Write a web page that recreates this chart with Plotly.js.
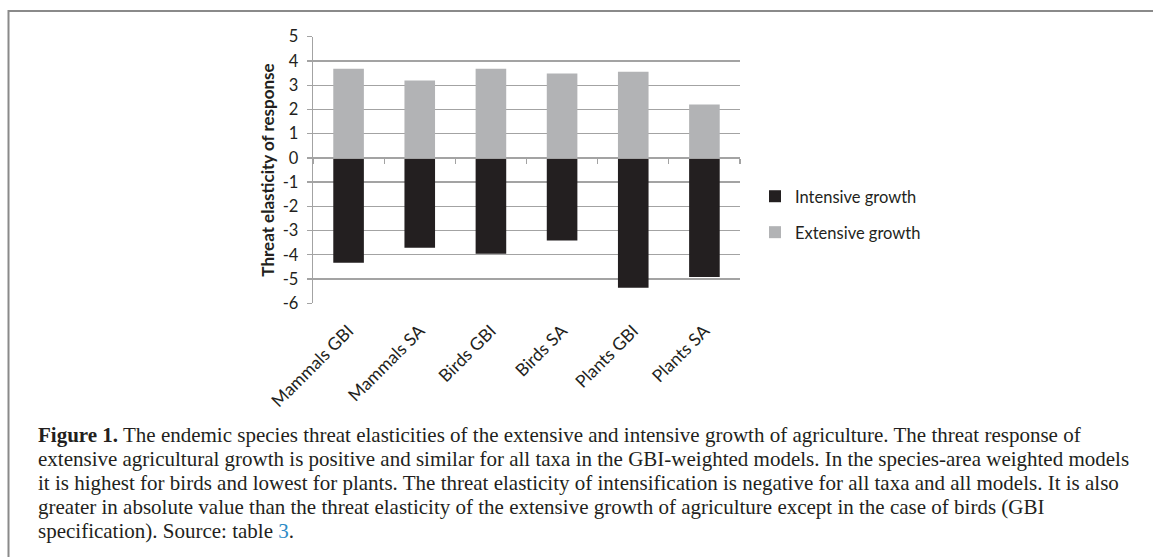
<!DOCTYPE html>
<html>
<head>
<meta charset="utf-8">
<script src="https://cdn.plot.ly/plotly-3.0.1.min.js"></script>
<style>html,body{margin:0;padding:0;background:#fff;}#chart{width:1153px;height:557px;}</style>
</head>
<body>
<div id="chart"></div>
<script>
// ---- data ----
const categories = ["Mammals GBI", "Mammals SA", "Birds GBI", "Birds SA", "Plants GBI", "Plants SA"];
const extensiveGrowth = [3.68, 3.19, 3.68, 3.48, 3.55, 2.20];
const intensiveGrowth = [-4.33, -3.71, -3.96, -3.41, -5.36, -4.92];
const yTickValues = [5, 4, 3, 2, 1, 0, -1, -2, -3, -4, -5, -6];
const yTickLabels = ["5", "4", "3", "2", "1", "0", "-1", "-2", "-3", "-4", "-5", "-6"];
const seriesNames = ["Intensive growth", "Extensive growth"];
const captionLines = [
  "<b>Figure 1.</b> The endemic species threat elasticities of the extensive and intensive growth of agriculture. The threat response of",
  "extensive agricultural growth is positive and similar for all taxa in the GBI-weighted models. In the species-area weighted models",
  "it is highest for birds and lowest for plants. The threat elasticity of intensification is negative for all taxa and all models. It is also",
  "greater in absolute value than the threat elasticity of the extensive growth of agriculture except in the case of birds (GBI",
  "specification). Source: table <span style='color:#2e8bc6'>3</span>."
];

const W = 1153, H = 557;
const px = v => v / W, py = v => 1 - v / H;
const axisGray = "#a3a3a3";
const textColor = "#231f20";

const plotLeft = 313, plotRight = 740, plotTop = 36.7, plotBottom = 303.3;
const yDomain = [py(plotBottom), py(plotTop)];
const yMin = -6, yMax = 5;
const zeroPos = yDomain[0] + (0 - yMin) / (yMax - yMin) * (yDomain[1] - yDomain[0]);

const traces = [
  {
    type: "bar", name: seriesNames[0], x: categories, y: intensiveGrowth,
    xaxis: "x2", yaxis: "y", legendgroup: "a",
    marker: {color: "#231f20"}, hoverinfo: "x+y"
  },
  {
    type: "bar", name: seriesNames[1], x: categories, y: extensiveGrowth,
    xaxis: "x", yaxis: "y", legendgroup: "b",
    marker: {color: "#b2b3b5"}, hoverinfo: "x+y"
  }
];

const commonX = {
  type: "category", categoryorder: "array", categoryarray: categories,
  range: [-0.5, 5.5], domain: [px(plotLeft), px(plotRight)], fixedrange: true
};

const captionTop = 435, captionStep = 24;
const captionAnnotations = captionLines.map((t, i) => ({
  xref: "paper", yref: "paper", x: px(36), y: py(captionTop + i * captionStep),
  xanchor: "left", yanchor: "middle", align: "left", showarrow: false,
  font: {family: "'Liberation Serif', 'Times New Roman', serif", size: 21, color: textColor},
  text: t
}));

const layout = {
  width: W, height: H,
  margin: {l: 0, r: 0, t: 0, b: 0},
  paper_bgcolor: "#fff", plot_bgcolor: "rgba(0,0,0,0)",
  barmode: "relative", bargap: 0.57,
  font: {family: "Lato, 'Open Sans', sans-serif", color: textColor},
  xaxis: Object.assign({}, commonX, {
    anchor: "y", showline: false, showgrid: false, zeroline: false, ticks: "",
    tickangle: -45, ticklabelstandoff: 13, tickfont: {size: 17.5, color: textColor}
  }),
  xaxis2: Object.assign({}, commonX, {
    overlaying: "x", anchor: "free", position: zeroPos,
    showline: true, linecolor: axisGray, linewidth: 1.3,
    ticks: "outside", ticklen: 5, tickcolor: axisGray, tickwidth: 1.3,
    tickson: "boundaries", showticklabels: false, showgrid: false, zeroline: false
  }),
  yaxis: {
    domain: yDomain, range: [yMin, yMax], fixedrange: true,
    tickmode: "array", tickvals: yTickValues, ticktext: yTickLabels,
    showgrid: true, gridcolor: axisGray, gridwidth: 1.3,
    showline: true, linecolor: axisGray, linewidth: 1.3,
    ticks: "outside", ticklen: 5, tickcolor: axisGray, tickwidth: 1.3,
    ticklabelstandoff: 5,
    zeroline: false, tickfont: {size: 16.5, color: textColor},
    title: {text: "<b>Threat elasticity of response</b>", font: {size: 17, color: textColor}, standoff: 3}
  },
  showlegend: true,
  legend: {
    x: px(755), y: py(179), xanchor: "left", yanchor: "top",
    traceorder: "grouped", tracegroupgap: 11.5,
    font: {size: 16.5, color: textColor}, bgcolor: "rgba(0,0,0,0)"
  },
  shapes: [
    {type: "line", xref: "paper", yref: "paper", x0: px(8), x1: 1, y0: py(11), y1: py(11), line: {color: "#8a8a8a", width: 2}},
    {type: "line", xref: "paper", yref: "paper", x0: px(8.5), x1: px(8.5), y0: py(10), y1: 0, line: {color: "#8a8a8a", width: 2}}
  ],
  annotations: captionAnnotations
};

Plotly.newPlot("chart", traces, layout, {displayModeBar: false, staticPlot: true});
</script>
</body>
</html>
